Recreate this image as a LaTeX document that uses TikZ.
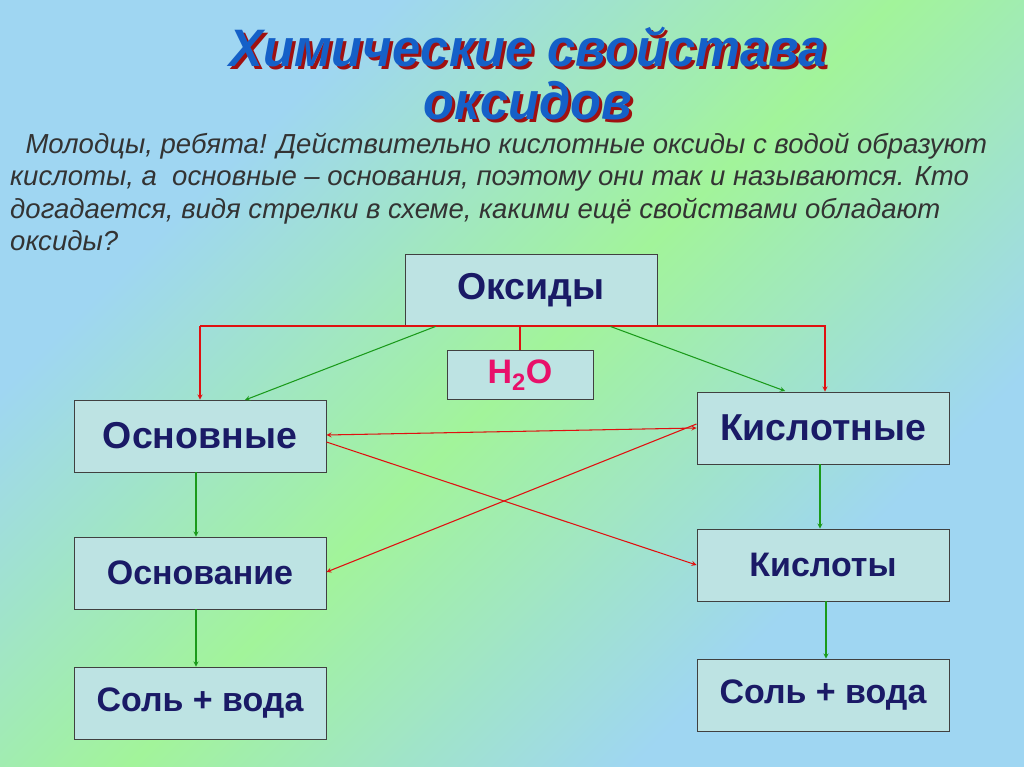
\documentclass[tikz,border=0pt]{standalone}
\usepackage{fontspec}
\setmainfont{Liberation Sans}
\usetikzlibrary{shadings}
\definecolor{bgblue}{HTML}{9FD6F2}
\definecolor{bggreen}{HTML}{A2F49A}
\definecolor{boxfill}{HTML}{BDE3E3}
\definecolor{navy}{HTML}{1A1A66}
\definecolor{ttlblue}{HTML}{1560C8}
\definecolor{ttlred}{HTML}{A01010}
\definecolor{water}{HTML}{E8106A}
\definecolor{arrred}{HTML}{E01010}
\definecolor{arrgreen}{HTML}{1A9A1A}
\pgfdeclarehorizontalshading{bgshade}{100bp}{color(0bp)=(bgblue); color(30bp)=(bgblue); color(50bp)=(bggreen); color(70bp)=(bgblue); color(100bp)=(bgblue)}
\tikzset{
  box/.style={draw=black!75, fill=boxfill, line width=0.8pt, minimum width=7.56cm, minimum height=2.16cm, font=\bfseries\fontsize{32}{36}\selectfont, text=navy},
  redline/.style={draw=arrred, line width=0.9pt},
  greenline/.style={draw=arrgreen, line width=0.9pt},
  ttl/.style={font=\bfseries\itshape\fontsize{45}{50}\selectfont, xscale=0.96, transform shape}
}
\begin{document}
\begin{tikzpicture}[x=0.03cm,y=-0.03cm,>=stealth]
  \shade[shading=bgshade, shading angle=135] (0,0) rectangle (1024,767);
  \useasboundingbox (0,0) rectangle (1024,767);
  % title
  \node[ttl, text=ttlred] at (531,50) {Химические свойстава};
  \node[ttl, text=ttlblue] (title1) at (528,47) {Химические свойстава};
  \node[ttl, text=ttlred] at (531,104) {оксидов};
  \node[ttl, text=ttlblue] (title2) at (528,101) {оксидов};
  % text
  \node[anchor=north west, align=left, font=\itshape\fontsize{23.5}{27.5}\selectfont, text=black!80, inner sep=0pt] (intro) at (10,133)
    {\ \ Молодцы, ребята! Действительно кислотные оксиды с водой образуют\\
     кислоты, а \ основные -- основания, поэтому они так и называются. Кто\\
     догадается, видя стрелки в схеме, какими ещё свойствами обладают\\
     оксиды?};
  % boxes
  \node[box] (oks) at (531,290) {Оксиды};
  \node[box, minimum width=4.38cm, minimum height=1.47cm, text=water, font=\bfseries\fontsize{29}{32}\selectfont] (water) at (520,375) {H\textsubscript{2}O};
  \node[box] (osn) at (200,436) {Основные};
  \node[box] (kisl) at (823,428) {Кислотные};
  \node[box, font=\bfseries\fontsize{29}{32}\selectfont] (osnov) at (200,573) {Основание};
  \node[box, font=\bfseries\fontsize{29}{32}\selectfont] (kislo) at (823,565) {Кислоты};
  \node[box, font=\bfseries\fontsize{29}{32}\selectfont] (sol1) at (200,703) {Соль + вода};
  \node[box, font=\bfseries\fontsize{29}{32}\selectfont] (sol2) at (823,695) {Соль + вода};
  % red lines from the oxides box
  \coordinate (rl) at (200,326);
  \coordinate (rr) at (825,326);
  \draw[redline] (oks.south -| water.north) -- (water.north);
  \draw[redline, ->] (rl) -- (rr) -- (kisl.north -| rr);
  \draw[redline, ->] (rl) -- (osn.north -| rl);
  % green arrows
  \draw[greenline, ->] (oks.south west) ++(31,0) -- (245,400);
  \draw[greenline, ->] (oks.south east) ++(-47,0) -- (785,391);
  \draw[greenline, ->] (osn.south -| 196,0) -- (osnov.north -| 196,0);
  \draw[greenline, ->] (osnov.south -| 196,0) -- (sol1.north -| 196,0);
  \draw[greenline, ->] (kisl.south -| 820,0) -- (kislo.north -| 820,0);
  \draw[greenline, ->] (kislo.south -| 826,0) -- (sol2.north -| 826,0);
  % crossing red arrows
  \draw[redline, <->] (osn.east |- 0,435) -- (kisl.west |- 0,428);
  \draw[redline, ->] (osn.east |- 0,442) -- (kislo.west |- 0,565);
  \draw[redline, ->] (kisl.west |- 0,424) -- (osnov.east |- 0,572);
\end{tikzpicture}
\end{document}
